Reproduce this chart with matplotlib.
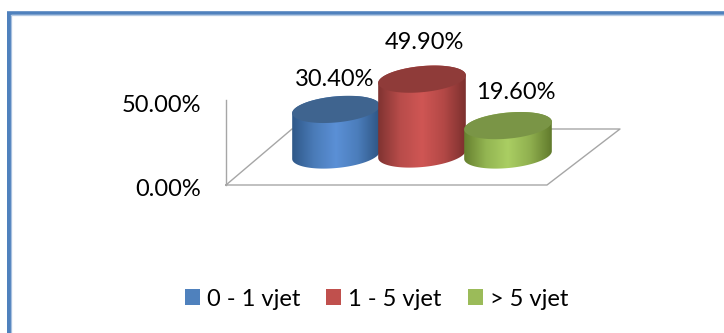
#!/usr/bin/env python3
"""3D cylinder chart: share per years of experience"""

import numpy as np
import matplotlib
matplotlib.use('Agg')
import matplotlib.pyplot as plt
from matplotlib.colors import LinearSegmentedColormap
from matplotlib.patches import Patch, Polygon

plt.rcParams['font.family'] = ['Lato', 'DejaVu Sans']

# data
categories = ['0 - 1 vjet', '1 - 5 vjet', '> 5 vjet']
values = [30.4, 49.9, 19.6]
axis_ticks = [0, 50]

# colours per series: edge, light, edge, top face, legend
body_stops = [
    ['#2F5888', '#4A7BB8', '#5B90D6', '#4B7DBB', '#2E5583'],
    ['#7F3331', '#B84C4A', '#CF5654', '#B34846', '#7C302E'],
    ['#66802F', '#93B552', '#AACE63', '#90B04F', '#617A2C'],
]
top_colors = ['#3F648F', '#8F3B39', '#7A9546']
legend_colors = ['#4F81BD', '#C0504D', '#9BBB59']

# layout, in pixels of the picture
W, H = 724, 333
PX_PER_PERCENT = 1.5
WALL_X = 226
WALL_ZERO_Y = 185
WALL_PX_PER_PERCENT = 1.7
TICK_ZERO_Y = 189
TICK_PX_PER_PERCENT = 1.66
CENTER_X0, CENTER_STEP = 336, 86
BASE_Y = [155, 154, 155]
RX, RY = 44, 13
TILT = np.deg2rad(5.5)
LABEL_DX = [-1, 2, 8]
LABEL_DY = [30, 37, 33]
GREY = '#A6A6A6'
FONT_SIZE = 17


def ellipse_point(cx, cy, t):
    x = cx + RX * np.cos(t) * np.cos(TILT) + RY * np.sin(t) * np.sin(TILT)
    y = cy - RX * np.cos(t) * np.sin(TILT) + RY * np.sin(t) * np.cos(TILT)
    return np.column_stack([x, y])


def draw_gradient(ax, outline, stops, z):
    """horizontal gradient clipped to a polygon"""
    cmap = LinearSegmentedColormap.from_list('body', stops)
    x0, y0 = outline.min(axis=0)
    x1, y1 = outline.max(axis=0)
    img = ax.imshow(np.linspace(0, 1, 256).reshape(1, -1), cmap=cmap, aspect='auto',
                    extent=(x0, x1, y1, y0), zorder=z, interpolation='bilinear')
    clip = Polygon(outline, closed=True, transform=ax.transData, fc='none', ec='none')
    ax.add_patch(clip)
    img.set_clip_path(clip)


def draw_cylinder(ax, cx, base_y, height, stops, top_color, z):
    top_y = base_y - height
    t0 = np.arctan2(RY * np.sin(TILT), RX * np.cos(TILT))
    lower = ellipse_point(cx, base_y, np.linspace(t0, t0 + np.pi, 80))
    upper = ellipse_point(cx, top_y, np.linspace(t0 + np.pi, t0 + 2 * np.pi, 80))
    draw_gradient(ax, np.vstack([lower, upper]), stops, z)
    top = ellipse_point(cx, top_y, np.linspace(0, 2 * np.pi, 160))
    ax.add_patch(Polygon(top, closed=True, fc=top_color, ec='none', zorder=z + 0.1))
    return top_y


fig = plt.figure(figsize=(W / 100, H / 100), dpi=100)
ax = fig.add_axes([0, 0, 1, 1])
ax.axis('off')

# page border (left and top only)
ax.plot([9, 9], [H, 13], color='#4F81BD', lw=3.6, solid_capstyle='butt', zorder=1)
ax.plot([7, W], [12.5, 12.5], color='#4F81BD', lw=2.6, solid_capstyle='butt', zorder=1)
ax.plot([11.3, 11.3], [H, 15], color='#A9C1DF', lw=0.9, zorder=1)
ax.plot([11, W], [14.6, 14.6], color='#B5CAE4', lw=0.9, zorder=1)

# wall and floor
wall_top = WALL_ZERO_Y - axis_ticks[-1] * WALL_PX_PER_PERCENT
ax.plot([WALL_X, WALL_X], [wall_top, WALL_ZERO_Y], color=GREY, lw=1, zorder=2)
ax.plot([WALL_X, 547, 620, 292, WALL_X], [185, 185, 129, 129, 185], color=GREY, lw=1, zorder=2)
for tick in axis_ticks:
    ax.text(201, TICK_ZERO_Y - tick * TICK_PX_PER_PERCENT, f'{tick:.2f}%',
            ha='right', va='center', fontsize=FONT_SIZE, color='black', zorder=6)

# cylinders and labels
for i, val in enumerate(values):
    cx = CENTER_X0 + i * CENTER_STEP
    top_y = draw_cylinder(ax, cx, BASE_Y[i], val * PX_PER_PERCENT,
                          body_stops[i], top_colors[i], 3 + i)
    ax.text(cx + LABEL_DX[i], top_y - LABEL_DY[i], f'{val:.2f}%', ha='center', va='center',
            fontsize=FONT_SIZE, color='black', zorder=7)

ax.set_xlim(0, W)
ax.set_ylim(H, 0)

handles = [Patch(fc=c, ec='none') for c in legend_colors]
ax.legend(handles, categories, ncol=3, loc='center', bbox_to_anchor=(376.5 / W, 1 - 299 / H),
          frameon=False, fontsize=FONT_SIZE, handlelength=0.64, handleheight=0.64,
          handletextpad=0.3, columnspacing=1.1, borderpad=0, labelcolor='black')

fig.savefig('out.png', dpi=100)
